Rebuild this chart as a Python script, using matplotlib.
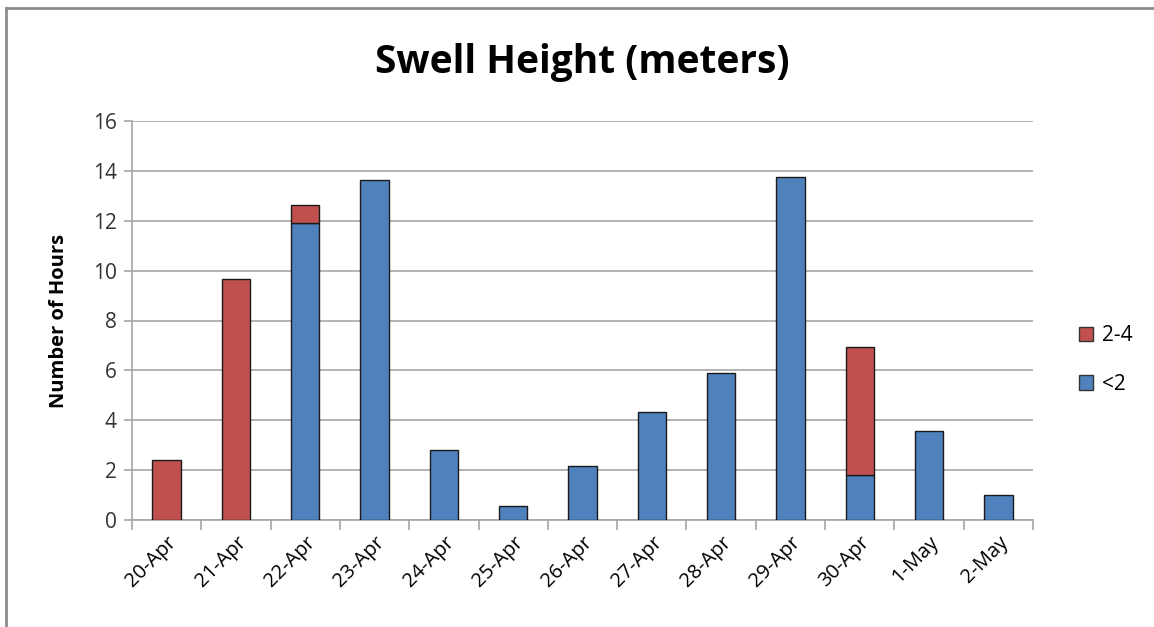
import matplotlib
matplotlib.use("Agg")
import matplotlib.pyplot as plt
import numpy as np
from matplotlib.lines import Line2D
from matplotlib.patches import Patch

dates = ["20-Apr", "21-Apr", "22-Apr", "23-Apr", "24-Apr", "25-Apr", "26-Apr",
         "27-Apr", "28-Apr", "29-Apr", "30-Apr", "1-May", "2-May"]
under_2 = [0, 0, 11.9, 13.65, 2.8, 0.58, 2.18, 4.35, 5.88, 13.75, 1.82, 3.58, 1.0]
from_2_to_4 = [2.42, 9.65, 0.73, 0, 0, 0, 0, 0, 0, 0, 5.1, 0, 0]

blue = "#4F81BD"
red = "#C0504D"
grid_col = "#A6A6A6"

plt.rcParams["font.family"] = ["Open Sans", "DejaVu Sans"]

fig = plt.figure(figsize=(11.54, 6.27), dpi=100)
ax = fig.add_axes([132 / 1154, 1 - 520 / 627, 901 / 1154, 399 / 627])

x = np.arange(len(dates))
w = 0.41
low = np.array(under_2)
high = np.array(from_2_to_4)
mask_low = low > 0
mask_high = high > 0
ax.bar(x[mask_low], low[mask_low], width=w, color=blue, edgecolor="#1a1a1a",
       linewidth=1.0, zorder=3)
ax.bar(x[mask_high], high[mask_high], width=w, bottom=low[mask_high], color=red,
       edgecolor="#1a1a1a", linewidth=1.0, zorder=3)

ax.set_xlim(-0.5, len(dates) - 0.5)
ax.set_ylim(0, 16)
ax.set_yticks(np.arange(0, 17, 2))
ax.yaxis.grid(True, color=grid_col, linewidth=1.2, zorder=0)
ax.set_axisbelow(True)

ax.set_xticks(x)
ax.set_xticklabels(dates, rotation=45, ha="right", rotation_mode="anchor",
                   fontsize=14.5)
ax.tick_params(axis="x", length=0, pad=9)
ax.set_xticks(np.arange(-0.5, len(dates)), minor=True)
ax.tick_params(axis="x", which="minor", length=7, color=grid_col, width=1.2)
ax.tick_params(axis="y", length=6, color=grid_col, width=1.2, labelsize=15,
               labelcolor="#333333", pad=5)

for s in ["top", "right"]:
    ax.spines[s].set_visible(False)
for s in ["left", "bottom"]:
    ax.spines[s].set_color(grid_col)
    ax.spines[s].set_linewidth(1.2)

ax.set_ylabel("Number of Hours", fontsize=14.5, fontweight="bold", labelpad=17)
fig.text(582 / 1154, 1 - 62 / 627, "Swell Height (meters)", fontsize=28,
         fontweight="bold", ha="center", va="center")

handles = [Patch(facecolor=red, edgecolor="#333333"),
           Patch(facecolor=blue, edgecolor="#333333")]
fig.legend(handles, ["2-4", "<2"], loc="center left",
           bbox_to_anchor=(1060 / 1154, 1 - 360 / 627), frameon=False,
           fontsize=15, handlelength=0.7, handleheight=0.7,
           handletextpad=0.4, labelspacing=1.3)

# Outer frame: top and left edges only
fig.add_artist(Line2D([6 / 1154, 1.0], [1 - 8 / 627, 1 - 8 / 627],
                      transform=fig.transFigure, color="#8C8C8C", linewidth=2))
fig.add_artist(Line2D([6 / 1154, 6 / 1154], [0.0, 1 - 8 / 627],
                      transform=fig.transFigure, color="#8C8C8C", linewidth=2))

fig.savefig("out.png", dpi=100)
